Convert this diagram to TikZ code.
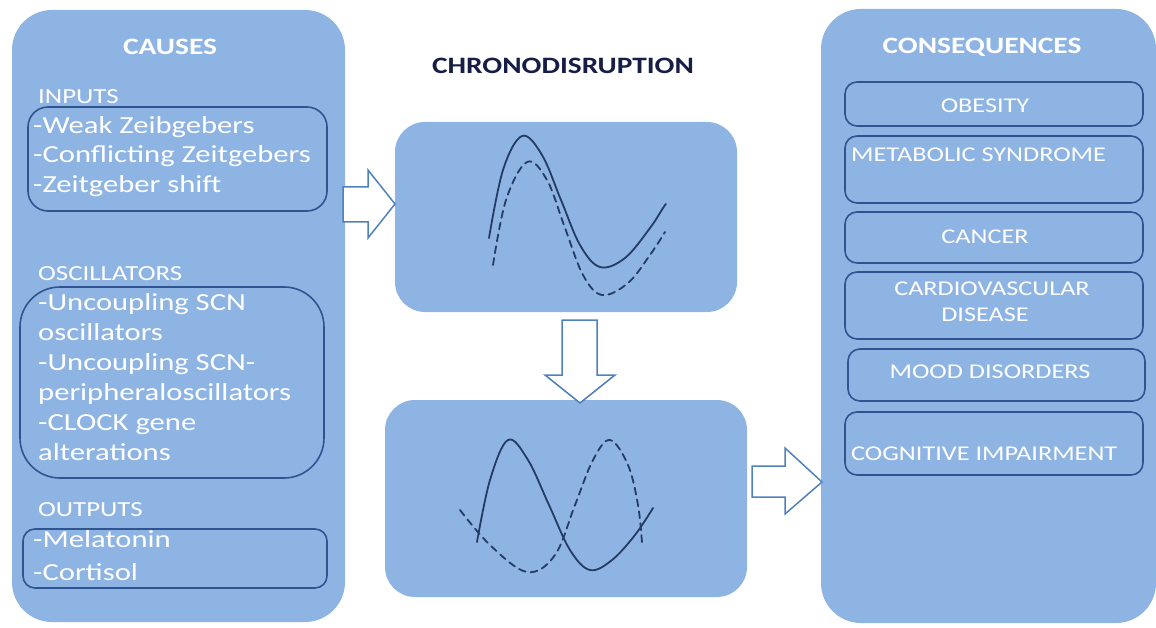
\documentclass[tikz,border=0pt]{standalone}
\usepackage{fontspec}
\setmainfont{Carlito}[FakeStretch=1.25]
\definecolor{boxfill}{RGB}{142,180,227}
\definecolor{innerline}{RGB}{47,84,145}
\definecolor{curve}{RGB}{36,60,100}
\definecolor{arrowline}{RGB}{79,129,189}
\definecolor{titlecol}{RGB}{22,30,70}
\begin{document}
\begin{tikzpicture}[x=1pt,y=-1pt,
  bigbox/.style={fill=boxfill, draw=none, rounded corners=40pt, inner sep=0pt},
  midbox/.style={fill=boxfill, draw=none, rounded corners=30pt, inner sep=0pt},
  innerbox/.style={draw=innerline, line width=1.6pt, rounded corners=#1, inner sep=0pt},
  innerbox/.default=12pt,
  heading/.style={font=\fontsize{23.5}{28}\selectfont\bfseries, text=white, inner sep=0pt},
  seclabel/.style={font=\fontsize{21.5}{26}\selectfont, text=white, anchor=base west, inner sep=0pt},
  item/.style={font=\fontsize{24.5}{29}\selectfont, text=white, anchor=base west, inner sep=0pt},
  cons/.style={font=\fontsize{21}{26}\selectfont, text=white, inner sep=0pt},
  blockarrow/.style={draw=arrowline, fill=white, line width=1.5pt, line join=miter},
  wave/.style={draw=curve, line width=1.8pt, line cap=round},
  dwave/.style={wave, dash pattern=on 7pt off 5pt}
]
\useasboundingbox (0,0) rectangle (1156,628);

% big boxes
\node[bigbox, minimum width=333pt, minimum height=612pt] (causes) at (178.5,316) {};
\node[bigbox, minimum width=335pt, minimum height=614pt] (conseq) at (988.5,316) {};
\node[midbox, minimum width=342pt, minimum height=190pt] (top) at (566,217) {};
\node[midbox, minimum width=362pt, minimum height=197pt] (bottom) at (566,498.5) {};

% headings
\node[heading] (tcauses) at (170,47) {CAUSES};
\node[heading, text=titlecol] (tchrono) at (563,66) {CHRONODISRUPTION};
\node[heading] (tcons) at (982,47) {CONSEQUENCES};

% causes content
\node[innerbox=20pt, minimum width=299pt, minimum height=104pt] (inputs) at (177.5,159) {};
\node[innerbox=40pt, minimum width=304pt, minimum height=191pt] (osc) at (172,382.5) {};
\node[innerbox=12pt, minimum width=304pt, minimum height=59pt] (outputs) at (175,558.5) {};

\node[seclabel] (linputs) at (38,103.5) {INPUTS};
\node[item] (i1) at (33,134) {-Weak Zeibgebers};
\node[item] (i2) at (33,163) {-Conflicting Zeitgebers};
\node[item] (i3) at (33,193) {-Zeitgeber shift};

\node[seclabel] (losc) at (38,280.5) {OSCILLATORS};
\node[item] (o1) at (38,310) {-Uncoupling SCN};
\node[item] (o2) at (38,340) {oscillators};
\node[item] (o3) at (38,370) {-Uncoupling SCN-};
\node[item] (o4) at (38,400) {peripheraloscillators};
\node[item] (o5) at (38,430) {-CLOCK gene};
\node[item] (o6) at (38,460) {alterations};

\node[seclabel] (lout) at (38,516.5) {OUTPUTS};
\node[item] (u1) at (33,547) {-Melatonin};
\node[item] (u2) at (33,580) {-Cortisol};

% consequences content
\node[innerbox, minimum width=298pt, minimum height=44pt] (obes) at (994,104) {};
\node[innerbox, minimum width=298pt, minimum height=67pt] (meta) at (994,169.5) {};
\node[innerbox, minimum width=298pt, minimum height=51pt] (canc) at (994,237.5) {};
\node[innerbox, minimum width=298pt, minimum height=67pt] (card) at (994,305.5) {};
\node[innerbox, minimum width=297pt, minimum height=52pt] (mood) at (996.5,375) {};
\node[innerbox, minimum width=298pt, minimum height=63pt] (cogn) at (994,443.5) {};

\node[cons] (tobes) at (985,106) {OBESITY};
\node[cons, anchor=base west] (tmeta) at (851,162) {METABOLIC SYNDROME};
\node[cons] (tcanc) at (985,237) {CANCER};
\node[cons] (tcard1) at (992,289) {CARDIOVASCULAR};
\node[cons] (tcard2) at (985,315) {DISEASE};
\node[cons] (tmood) at (990,372) {MOOD DISORDERS};
\node[cons, anchor=base west] (tcogn) at (851,460) {COGNITIVE IMPAIRMENT};

% block arrows
\draw[blockarrow] (343,187) -- (368,187) -- (368,170) -- (395,204) -- (368,238) -- (368,222) -- (343,222) -- cycle;
\draw[blockarrow] (562,320) -- (597,320) -- (597,375) -- (615,375) -- (580,403) -- (545,375) -- (562,375) -- cycle;
\draw[blockarrow] (752,466) -- (785,466) -- (785,448) -- (822,482) -- (785,514) -- (785,497) -- (752,497) -- cycle;

% waves, top box
\draw[wave] plot[smooth, tension=0.6] coordinates {(489,238) (503,170) (522,136) (542,155) (561,200) (580,245) (600,267) (625,258) (650,228) (663,208) (666,204)};
\draw[dwave] plot[smooth, tension=0.6] coordinates {(493,265) (506,200) (527,162) (547,180) (565,228) (583,275) (602,295) (628,283) (650,255) (665,232)};

% waves, bottom box
\draw[wave] plot[smooth, tension=0.6] coordinates {(477,542) (490,480) (508,440) (528,460) (549,505) (570,550) (590,570) (612,560) (635,535) (653,508)};
\draw[dwave] plot[smooth, tension=0.6] coordinates {(460,510) (490,545) (527,572) (555,555) (575,505) (593,460) (610,440) (628,465) (638,505) (642,543)};
\end{tikzpicture}
\end{document}
